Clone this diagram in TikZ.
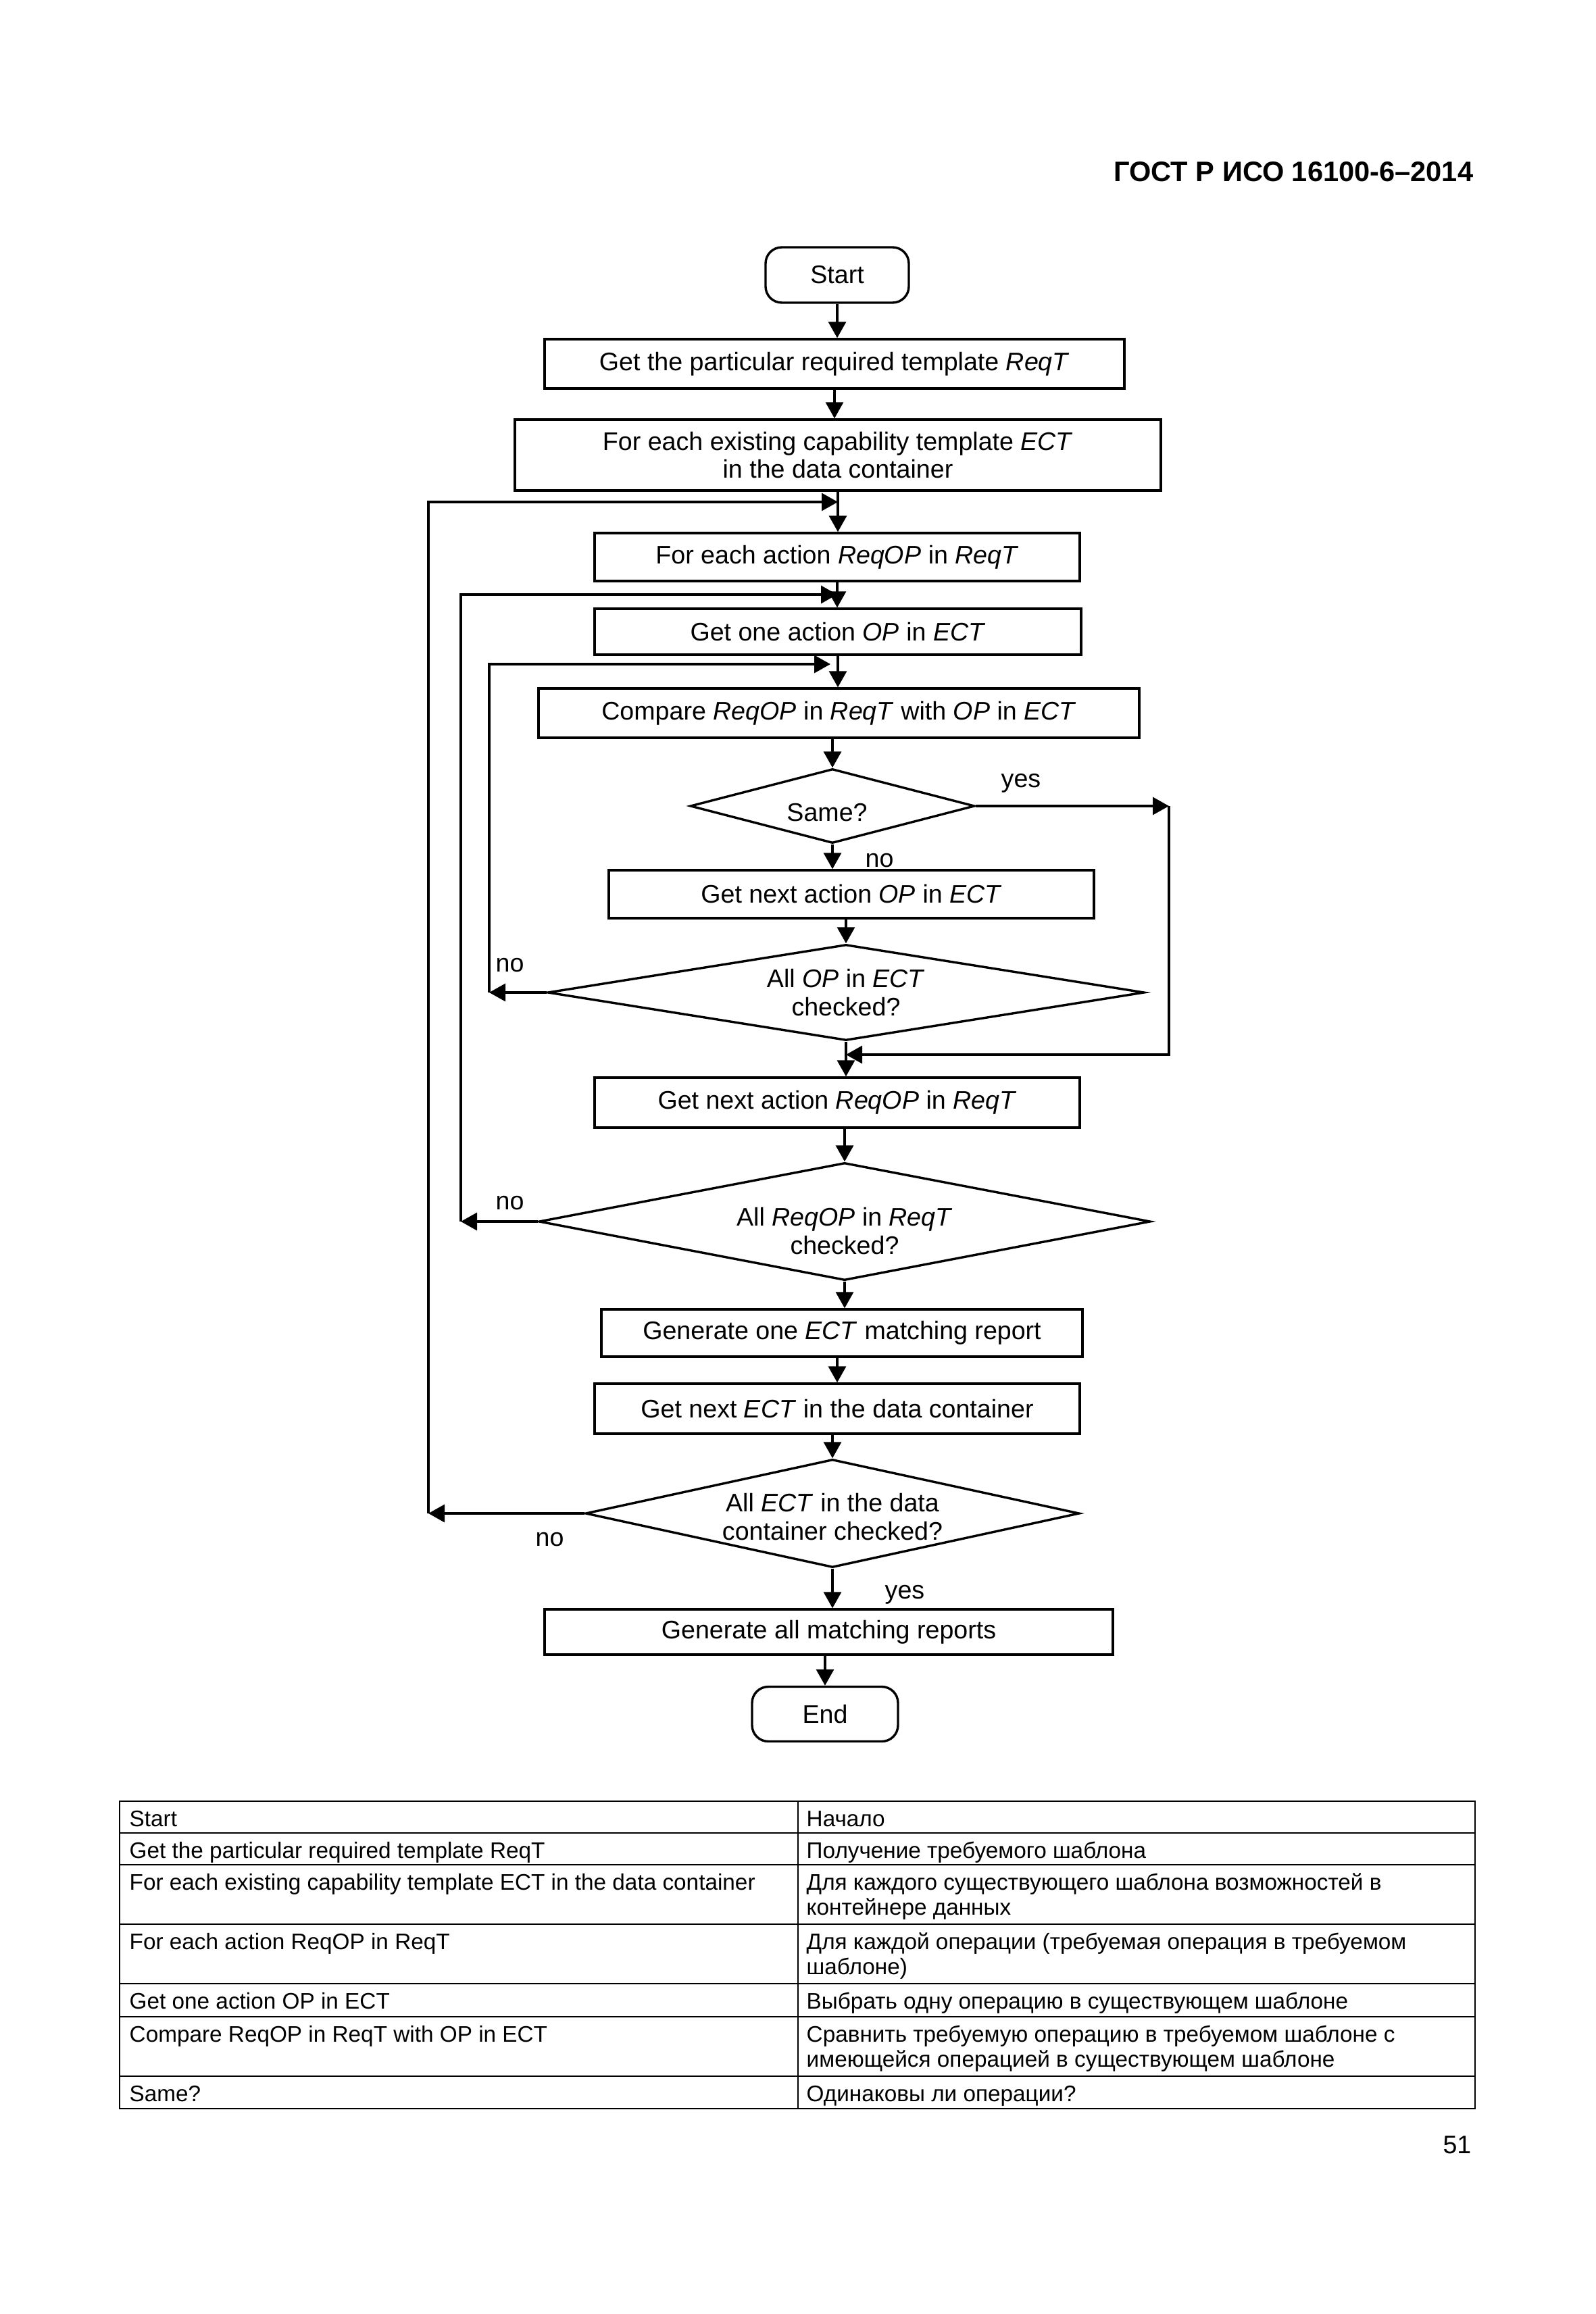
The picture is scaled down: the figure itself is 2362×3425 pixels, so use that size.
\documentclass[tikz,border=0pt]{standalone}
\usepackage{fontspec}
\setmainfont{Liberation Sans}
\usetikzlibrary{arrows.meta,shapes.geometric}
\newcommand\fcfont{\fontsize{9.4pt}{10.4pt}\selectfont}
\newcommand\tbfont{\fontsize{8.33pt}{9.25pt}\selectfont}
\begin{document}
\begin{tikzpicture}[x=0.25pt,y=-0.25pt,
  line width=0.85pt,
  box/.style={draw, rectangle, inner sep=0pt, font=\fcfont, align=center},
  term/.style={box, rounded corners=6pt},
  dec/.style={draw, diamond, inner sep=0pt, font=\fcfont, align=center},
  arr/.style={-{Triangle[length=6pt,width=6.5pt]}},
  lbl/.style={font=\fcfont, inner sep=0pt, anchor=base west},
  cell/.style={font=\tbfont, inner sep=0pt, anchor=north west, align=left},
  grid/.style={line width=0.65pt}
]
\useasboundingbox (0,0) rectangle (2362,3425);
\fill[white] (0,0) rectangle (2362,3425);

% header and page number
\node[font={\fontsize{10.4pt}{12pt}\selectfont\bfseries}, anchor=base east, inner sep=0pt] (hdr) at (2182,268) {ГОСТ Р ИСО 16100-6–2014};
\node[font={\fontsize{9.4pt}{11pt}\selectfont}, anchor=base east, inner sep=0pt] (pg) at (2179,3187) {51};

% flowchart nodes
\node[term, minimum width=53pt, minimum height=20.5pt] (start) at (1239,407) {Start};
\node[box, minimum width=214.5pt, minimum height=18.25pt] (reqt) at (1235,538.5) {Get the particular required template \textit{ReqT}};
\node[box, minimum width=239pt, minimum height=26.25pt] (ect) at (1240,673.5) {For each existing capability template \textit{ECT}\\in the data container};
\node[box, minimum width=179.5pt, minimum height=17.75pt] (reqop) at (1239,824.5) {For each action \textit{ReqOP} in \textit{ReqT}};
\node[box, minimum width=180pt, minimum height=17pt] (getone) at (1240,935) {Get one action \textit{OP} in \textit{ECT}};
\node[box, minimum width=222.25pt, minimum height=18.25pt] (compare) at (1241.5,1055.5) {Compare \textit{ReqOP} in \textit{ReqT} with \textit{OP} in \textit{ECT}};
\node[dec, minimum width=105.25pt, minimum height=27.5pt, shape aspect=3.8] (same) at (1232,1193) {\rule{0pt}{11.4pt}Same?\hspace{4pt}};
\node[box, minimum width=179.5pt, minimum height=17.75pt] (nextop) at (1260,1323.5) {Get next action \textit{OP} in \textit{ECT}};
\node[dec, minimum width=220.75pt, minimum height=35.5pt, shape aspect=6.2] (allop) at (1252,1469) {All \textit{OP} in \textit{ECT}\\checked?};
\node[box, minimum width=179.5pt, minimum height=18.5pt] (nextreqop) at (1239,1632) {Get next action \textit{ReqOP} in \textit{ReqT}};
\node[dec, minimum width=226.25pt, minimum height=43.5pt, shape aspect=5.2] (allreqop) at (1250,1808) {\rule{0pt}{13.8pt}All \textit{ReqOP} in \textit{ReqT}\\checked?};
\node[box, minimum width=178pt, minimum height=17.5pt] (genone) at (1246,1973) {Generate one \textit{ECT} matching report};
\node[box, minimum width=179.5pt, minimum height=18.5pt] (nextect) at (1239,2085) {Get next \textit{ECT} in the data container};
\node[dec, minimum width=182.75pt, minimum height=40pt, shape aspect=4.57] (allect) at (1232,2240) {\rule{0pt}{9.4pt}All \textit{ECT} in the data\hspace{5pt}\\container checked?\hspace{5pt}};
\node[box, minimum width=210.25pt, minimum height=16.75pt] (genall) at (1226.5,2415.5) {Generate all matching reports};
\node[term, minimum width=54pt, minimum height=20.25pt] (end) at (1221,2537) {End};

% labels
\node[lbl] (yes1) at (1480,1165) {yes};
\node[lbl] (no1) at (1279,1283) {no};
\node[lbl] (no2) at (732,1438) {no};
\node[lbl] (no3) at (732,1790) {no};
\node[lbl] (no4) at (791,2288) {no};
\node[lbl] (yes2) at (1308,2366) {yes};

% main connectors
\draw[arr] (start.south) -- (start.south |- reqt.north);
\draw[arr] (reqt.south) -- (reqt.south |- ect.north);
\draw[arr] (ect.south) -- (ect.south |- reqop.north);
\draw[arr] (reqop.south) -- (reqop.south |- getone.north);
\draw[arr] (getone.south) -- (getone.south |- compare.north);
\draw[arr] (same.north |- compare.south) -- (same.north);
\draw[arr] (same.south) -- (same.south |- nextop.north);
\draw[arr] (allop.north |- nextop.south) -- (allop.north);
\draw[arr] (allop.south) -- (allop.south |- nextreqop.north);
\draw[arr] (allreqop.north |- nextreqop.south) -- (allreqop.north);
\draw[arr] (allreqop.south) -- (allreqop.south |- genone.north);
\draw[arr] (nextect.north |- genone.south) -- (nextect.north);
\draw[arr] (allect.north |- nextect.south) -- (allect.north);
\draw[arr] (allect.south) -- (allect.south |- genall.north);
\draw[arr] (end.north |- genall.south) -- (end.north);

% yes branch of Same?
\coordinate (yc1) at (1730,1193);
\coordinate (yc2) at (1730,1561);
\draw[arr] (same.east) -- (yc1);
\draw[arr] (yc1) -- (yc2) -- (allop.south |- yc2);

% no branch of All OP
\coordinate (n1b) at (724,983);
\coordinate (n1t) at (1229,983);
\draw[arr] (allop.west) -- (allop.west -| n1b);
\draw[arr] (allop.west -| n1b) -- (n1b) -- (n1t);

% no branch of All ReqOP
\coordinate (n2b) at (682,880);
\draw[arr] (allreqop.west) -- (allreqop.west -| n2b);
\draw[arr] (allreqop.west -| n2b) -- (n2b) -- (reqop.south |- n2b);

% no branch of All ECT
\coordinate (n3b) at (634,743);
\draw[arr] (allect.west) -- (allect.west -| n3b);
\draw[arr] (allect.west -| n3b) -- (n3b) -- (ect.south |- n3b);

% table
\draw[grid] (177,2666) rectangle (2183,3121);
\foreach \yy in {2713,2760,2848,2936,2985,3073} \draw[grid] (177,\yy) -- (2183,\yy);
\draw[grid] (1181,2666) -- (1181,3121);

\node[cell] (t0a) at (190,2676) {\strut Start};
\node[cell] (t0b) at (1192,2676) {\strut Начало};
\node[cell] (t1a) at (190,2723) {\strut Get the particular required template ReqT};
\node[cell] (t1b) at (1192,2723) {\strut Получение требуемого шаблона};
\node[cell] (t2a) at (190,2770) {\strut For each existing capability template ECT in the data container};
\node[cell] (t2b) at (1192,2770) {\strut Для каждого существующего шаблона возможностей в\\контейнере данных};
\node[cell] (t3a) at (190,2858) {\strut For each action ReqOP in ReqT};
\node[cell] (t3b) at (1192,2858) {\strut Для каждой операции (требуемая операция в требуемом\\шаблоне)};
\node[cell] (t4a) at (190,2946) {\strut Get one action OP in ECT};
\node[cell] (t4b) at (1192,2946) {\strut Выбрать одну операцию в существующем шаблоне};
\node[cell] (t5a) at (190,2995) {\strut Compare ReqOP in ReqT with OP in ECT};
\node[cell] (t5b) at (1192,2995) {\strut Сравнить требуемую операцию в требуемом шаблоне с\\имеющейся операцией в существующем шаблоне};
\node[cell] (t6a) at (190,3083) {\strut Same?};
\node[cell] (t6b) at (1192,3083) {\strut Одинаковы ли операции?};
\end{tikzpicture}
\end{document}
